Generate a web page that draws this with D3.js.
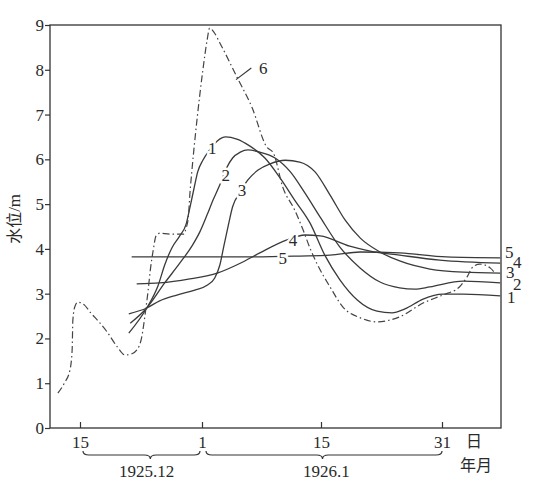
<!DOCTYPE html>
<html><head><meta charset="utf-8">
<script src="https://cdn.jsdelivr.net/npm/d3@7"></script>
<style>
html,body{margin:0;padding:0;background:#fff;}
svg text{fill:#2a2a2a;}
</style>
</head><body>
<svg id="c" width="535" height="486"></svg>
<script>
// ---- data (day numbers counted from 1 Dec 1925: Dec 15 = 15, Jan 1 = 32, Jan 15 = 46, Jan 31 = 62) ----
const xTickDays = [15, 32, 46, 62];
const xTickLabels = ["15", "1", "15", "31"];
const yTicks = [0,1,2,3,4,5,6,7,8,9];
const monthLabels = ["1925.12", "1926.1"];

const curve1 = [[21.8,2.12],[24.3,2.68],[25.9,3.19],[26.8,3.64],[27.8,4.02],[28.9,4.29],[29.8,4.56],[30.3,4.91],[30.9,5.36],[31.4,5.72],[32.1,5.98],[32.9,6.21],[33.8,6.41],[34.8,6.5],[36.1,6.45],[37.6,6.3],[39.4,6.03],[41.2,5.58],[42.9,5.09],[44.7,4.58],[46.5,3.86],[48.5,3.31],[50.8,2.86],[53.4,2.61],[55.4,2.57],[57.1,2.66],[59.5,2.88],[62.1,2.99],[64.8,2.99],[69.7,2.95]];
const curve2 = [[22.0,2.34],[24.3,2.68],[26.8,3.24],[28.9,3.68],[30.7,4.09],[31.7,4.38],[32.6,4.76],[33.3,5.09],[34.1,5.43],[34.9,5.81],[35.6,6.03],[36.5,6.16],[37.4,6.21],[38.8,6.16],[40.6,6.03],[42.4,5.72],[44.1,5.25],[45.9,4.71],[48.5,4.04],[51.2,3.57],[53.8,3.26],[56.4,3.13],[58.4,3.1],[60.4,3.15],[64.8,3.28],[69.7,3.24]];
const curve3 = [[21.8,2.55],[24.3,2.68],[26.1,2.84],[28.5,2.97],[31.0,3.08],[32.6,3.19],[33.5,3.35],[34.1,3.64],[34.6,4.09],[35.1,4.53],[35.6,4.94],[36.5,5.27],[37.4,5.54],[38.6,5.76],[40.0,5.9],[41.8,5.98],[43.5,5.94],[45.3,5.72],[47.2,5.2],[49.2,4.64],[51.2,4.24],[53.8,3.93],[56.4,3.73],[60.4,3.55],[64.8,3.48],[69.7,3.46]];
const curve4 = [[22.9,3.22],[26.1,3.24],[30.3,3.33],[33.8,3.46],[36.5,3.68],[38.8,3.91],[42.0,4.2],[44.1,4.31],[45.9,4.29],[49.8,4.06],[52.5,3.95],[56.4,3.86],[61.7,3.75],[69.7,3.68]];
const curve5 = [[22.2,3.82],[37.6,3.82],[43.5,3.84],[47.2,3.86],[51.2,3.93],[56.4,3.91],[62.6,3.82],[69.7,3.8]];
const curve6 = [[11.9,0.78],[12.8,1.0],[13.6,1.3],[13.9,1.74],[14.0,2.41],[14.3,2.72],[14.7,2.81],[15.6,2.75],[16.4,2.59],[17.8,2.34],[18.8,2.14],[20.2,1.81],[21.3,1.63],[22.1,1.65],[22.9,1.74],[23.6,2.03],[24.1,2.57],[24.5,3.08],[24.8,3.53],[25.2,3.97],[25.6,4.29],[26.1,4.35],[27.5,4.33],[29.4,4.33],[29.8,4.47],[30.1,4.71],[30.3,5.2],[30.6,5.76],[31.3,6.88],[32.1,7.99],[32.6,8.66],[32.9,8.93],[33.4,8.84],[34.1,8.6],[36.1,7.84],[37.9,7.15],[39.6,6.28],[40.4,6.14],[41.5,5.38],[42.9,4.87],[43.9,4.42],[44.7,4.02],[45.5,3.68],[47.2,3.15],[48.9,2.7],[51.2,2.46],[53.4,2.37],[55.1,2.41],[56.4,2.48],[59.5,2.79],[62.1,2.97],[64.3,3.15],[65.3,3.37],[66.1,3.6],[67.0,3.66],[68.4,3.57],[69.0,3.46]];

const seriesNames = ["1","2","3","4","5","6"];
// in-plot label anchors [day, value]
const inLabelPos = [[33.2,6.25],[34.8,5.65],[36.7,5.31],[42.7,4.20],[41.5,3.80],[38.6,8.04]];
// right-edge label values
const rightLabelVals = [2.93,3.22,3.48,3.71,3.93];

// ---- drawing ----
const svg = d3.select("#c");
const serif = "'Liberation Serif','DejaVu Serif',serif";
const cjk = "'Noto Sans CJK SC','Noto Sans CJK JP',sans-serif";
const ink = "#333";

const x = d3.scaleLinear().domain([10.8, 15, 32, 46, 62, 69.8]).range([50, 80, 202, 321, 442, 501]);
const y = d3.scaleLinear().domain([0, 9]).range([428, 25]);
const x0 = x(10.8), x1 = x(69.8);

// frame
svg.append("rect").attr("x", x0).attr("y", y(9)).attr("width", x1 - x0).attr("height", y(0) - y(9))
  .attr("fill", "none").attr("stroke", ink).attr("stroke-width", 1.3);

// y axis
const ya = svg.append("g").attr("transform", `translate(${x0},0)`)
  .call(d3.axisLeft(y).tickValues(yTicks).tickFormat(d3.format("d")).tickSize(5).tickPadding(1));
ya.select(".domain").remove();
ya.selectAll("line").attr("stroke", ink).attr("stroke-width", 1.2);
ya.selectAll("text").style("font-family", serif).style("font-size", "17px").attr("fill", "#2a2a2a");

// x axis
const xa = svg.append("g").attr("transform", `translate(0,${y(0)})`)
  .call(d3.axisBottom(x).tickValues(xTickDays).tickFormat((d, i) => xTickLabels[i]).tickSizeInner(-6).tickSizeOuter(0).tickPadding(8));
xa.select(".domain").remove();
xa.selectAll("line").attr("stroke", ink).attr("stroke-width", 1.2);
xa.selectAll("text").style("font-family", serif).style("font-size", "17px").attr("fill", "#2a2a2a");

// line generator
const line = d3.line().x(d => x(d[0])).y(d => y(d[1])).curve(d3.curveMonotoneX);
const solids = [curve1, curve2, curve3, curve4, curve5];
svg.append("g").selectAll("path").data(solids).join("path")
  .attr("d", line).attr("fill", "none").attr("stroke", "#3a3a3a").attr("stroke-width", 1.3);
svg.append("path").datum(curve6).attr("d", line).attr("fill", "none")
  .attr("stroke", "#444").attr("stroke-width", 1.2).attr("stroke-dasharray", "7,3,1.5,3");

// leader for 6
svg.append("line").attr("x1", x(36)).attr("y1", y(7.78)).attr("x2", x(37.8)).attr("y2", y(8.04))
  .attr("stroke", ink).attr("stroke-width", 1.1);

// in-plot labels with white halo
svg.append("g").selectAll("text").data(seriesNames).join("text")
  .attr("x", (d, i) => x(inLabelPos[i][0]) + (i === 5 ? 1 : 0))
  .attr("y", (d, i) => y(inLabelPos[i][1]))
  .attr("dy", "0.35em").attr("text-anchor", (d, i) => i === 5 ? "start" : "middle")
  .style("font-family", serif).style("font-size", "17px")
  .attr("stroke", (d, i) => i === 5 ? "none" : "#fff").attr("stroke-width", 5).attr("paint-order", "stroke")
  .text(d => d);

// right labels
const rOff = [6, 12, 5, 12, 4];
svg.append("g").selectAll("text").data(seriesNames.slice(0, 5)).join("text")
  .attr("x", (d, i) => x1 + rOff[i]).attr("y", (d, i) => y(rightLabelVals[i]))
  .attr("dy", "0.35em").style("font-family", serif).style("font-size", "17px").text(d => d);

// braces
function brace(a, b, m, top) {
  const y1 = top + 4, y2 = top + 8;
  return `M${a},${top} Q${a},${y1} ${a + 6},${y1} L${m - 6},${y1} Q${m},${y1} ${m},${y2} Q${m},${y1} ${m + 6},${y1} L${b - 6},${y1} Q${b},${y1} ${b},${top}`;
}
svg.append("path").attr("d", brace(x(15) + 3, x(32) - 2, x(24.8), 451))
  .attr("fill", "none").attr("stroke", ink).attr("stroke-width", 1.2);
svg.append("path").attr("d", brace(x(32) + 4, x(62), x(46.2), 451))
  .attr("fill", "none").attr("stroke", ink).attr("stroke-width", 1.2);
svg.append("g").selectAll("text").data(monthLabels).join("text")
  .attr("x", (d, i) => i === 0 ? x(24.3) : x(46.7)).attr("y", 477)
  .attr("text-anchor", "middle").style("font-family", serif).style("font-size", "17px").text(d => d);

// 日 / 年月
svg.append("text").attr("x", 474).attr("y", 447).attr("text-anchor", "middle")
  .style("font-family", cjk).style("font-size", "16px").text("日");
svg.append("text").attr("x", 476).attr("y", 471).attr("text-anchor", "middle")
  .style("font-family", cjk).style("font-size", "16px").text("年月");

// y label
const yl = svg.append("text").attr("transform", `translate(20,${y(4.67)}) rotate(-90)`)
  .attr("text-anchor", "middle").style("font-size", "16px");
yl.append("tspan").style("font-family", cjk).text("水位");
yl.append("tspan").style("font-family", serif).style("font-size", "17px").text("/m");
</script>
</body></html>
